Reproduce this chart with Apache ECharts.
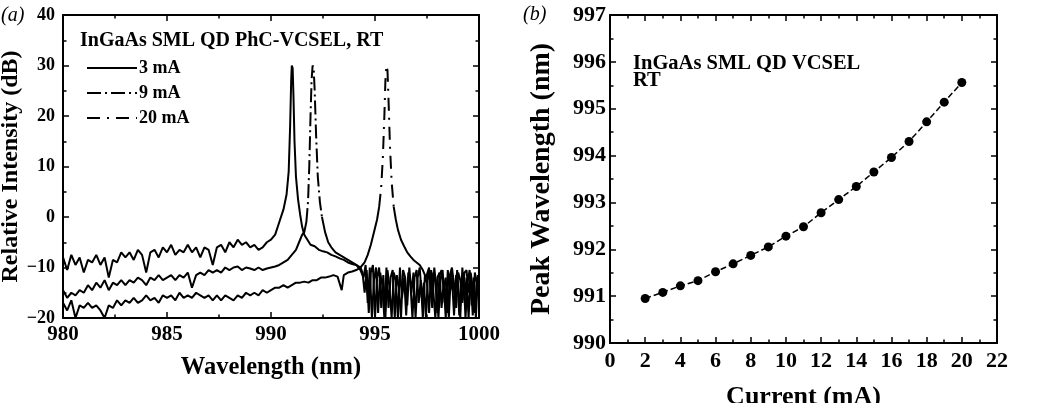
<!DOCTYPE html>
<html>
<head>
<meta charset="utf-8">
<script src="https://cdn.jsdelivr.net/npm/echarts@6/dist/echarts.min.js"></script>
<style>
  html, body { margin: 0; padding: 0; background: #fff; }
  #chart { width: 1048px; height: 403px; }
</style>
</head>
<body>
<div id="chart"></div>
<script>
// (a) spectra, [wavelength nm, relative intensity dB]
const spec3mA = [
  [980.0,-8.0],[980.2,-10.5],[980.4,-7.5],[980.6,-9.5],[980.8,-8.0],[981.0,-11.0],[981.2,-8.5],[981.4,-9.0],
  [981.6,-7.5],[981.8,-9.5],[982.0,-8.0],[982.2,-12.0],[982.4,-8.5],[982.6,-9.0],[982.8,-7.0],[983.0,-8.0],
  [983.2,-7.0],[983.4,-8.5],[983.6,-6.5],[983.8,-7.5],[984.0,-11.0],[984.2,-7.0],[984.4,-6.5],[984.6,-8.0],
  [984.8,-6.0],[985.0,-7.0],[985.2,-5.5],[985.4,-7.5],[985.6,-6.5],[985.8,-7.0],[986.0,-5.5],[986.2,-7.0],
  [986.4,-6.0],[986.6,-8.0],[986.8,-6.0],[987.0,-6.5],[987.2,-9.5],[987.4,-6.0],[987.6,-5.5],[987.8,-7.0],
  [988.0,-5.0],[988.2,-6.0],[988.4,-4.5],[988.6,-5.5],[988.8,-5.0],[989.0,-6.0],[989.2,-5.5],[989.4,-6.5],
  [989.6,-6.0],[989.8,-5.0],[990.0,-4.5],[990.2,-3.5],[990.4,-1.0],[990.6,1.5],[990.75,4.5],[990.85,9.0],
  [990.92,18.0],[990.97,27.0],[991.0,30.0],[991.04,29.5],[991.08,24.0],[991.13,15.0],[991.2,8.0],[991.3,3.5],
  [991.4,0.5],[991.5,-2.0],[991.6,-3.5],[991.75,-4.5],[991.9,-5.5],[992.1,-5.8],[992.3,-6.5],[992.5,-6.8],
  [992.7,-7.0],[992.9,-7.5],[993.1,-7.8],[993.3,-8.2],[993.5,-8.5],[993.7,-9.0],[993.9,-9.3],[994.1,-9.5],
  [994.3,-10.0],[994.4,-11.0],[994.5,-15.0],[994.6,-10.5],[994.7,-19.0],[994.8,-11.0],[994.9,-9.5],[995.0,-20.0],
  [995.1,-12.0],[995.2,-10.0],[995.3,-18.0],[995.4,-11.5],[995.5,-20.0],[995.6,-10.5],[995.7,-14.0],[995.8,-20.0],
  [995.9,-11.0],[996.0,-12.5],[996.1,-20.0],[996.2,-10.0],[996.3,-16.0],[996.4,-12.0],[996.5,-19.5],[996.6,-11.0],
  [996.7,-13.0],[996.8,-20.0],[996.9,-12.0],[997.0,-10.5],[997.1,-17.0],[997.2,-12.5],[997.3,-20.0],[997.4,-11.5],
  [997.5,-13.0],[997.6,-19.0],[997.7,-10.5],[997.8,-14.5],[997.9,-20.0],[998.0,-12.0],[998.1,-11.0],[998.2,-18.0],
  [998.3,-13.0],[998.4,-20.0],[998.5,-10.5],[998.6,-15.0],[998.7,-12.0],[998.8,-19.5],[998.9,-11.5],[999.0,-13.5],
  [999.1,-20.0],[999.2,-10.0],[999.3,-16.5],[999.4,-12.0],[999.5,-20.0],[999.6,-11.0],[999.7,-14.0],[999.8,-19.0],
  [999.9,-12.0],[1000.0,-15.0]
]

const spec9mA = [
  [980.0,-14.5],[980.2,-16.0],[980.4,-15.0],[980.6,-15.5],[980.8,-14.5],[981.0,-15.0],[981.2,-13.5],[981.4,-14.5],
  [981.6,-13.0],[981.8,-14.0],[982.0,-12.5],[982.2,-14.5],[982.4,-13.0],[982.6,-13.5],[982.8,-12.5],[983.0,-13.5],
  [983.2,-12.5],[983.4,-13.0],[983.6,-12.0],[983.8,-12.5],[984.0,-13.5],[984.2,-12.0],[984.4,-12.5],[984.6,-11.5],
  [984.8,-12.5],[985.0,-12.0],[985.2,-11.5],[985.4,-12.5],[985.6,-11.5],[985.8,-12.0],[986.0,-11.0],[986.2,-14.0],
  [986.4,-11.5],[986.6,-11.0],[986.8,-11.5],[987.0,-10.5],[987.2,-11.0],[987.4,-10.5],[987.6,-11.0],[987.8,-10.0],
  [988.0,-10.5],[988.2,-10.0],[988.4,-9.8],[988.6,-10.5],[988.8,-10.0],[989.0,-10.2],[989.2,-10.5],[989.4,-10.0],
  [989.6,-10.5],[989.8,-10.2],[990.0,-10.0],[990.2,-9.8],[990.4,-9.5],[990.6,-9.0],[990.8,-8.5],[991.0,-7.5],
  [991.2,-6.5],[991.35,-5.0],[991.5,-3.5],[991.6,-3.0],[991.7,-1.0],[991.78,3.0],[991.84,10.0],[991.9,20.0],
  [991.95,27.0],[992.0,30.0],[992.05,29.5],[992.1,25.0],[992.17,16.0],[992.25,8.0],[992.35,3.0],[992.45,0.0],
  [992.6,-3.0],[992.75,-5.0],[992.9,-6.0],[993.1,-7.0],[993.3,-7.5],[993.5,-8.0],[993.7,-8.5],[993.9,-9.0],
  [994.1,-9.5],[994.3,-10.5],[994.45,-12.0],[994.55,-9.5],[994.65,-17.0],[994.75,-10.0],[994.85,-20.0],[994.95,-12.5],
  [995.05,-10.0],[995.15,-19.0],[995.25,-11.0],[995.35,-13.5],[995.45,-20.0],[995.55,-10.0],[995.65,-18.0],[995.75,-12.0],
  [995.85,-10.5],[995.95,-20.0],[996.05,-11.5],[996.15,-14.0],[996.25,-20.0],[996.35,-10.5],[996.45,-12.0],[996.55,-17.5],
  [996.65,-10.0],[996.75,-15.0],[996.85,-11.0],[996.95,-20.0],[997.05,-12.0],[997.15,-10.0],[997.25,-16.0],[997.35,-13.0],
  [997.45,-20.0],[997.55,-11.0],[997.65,-12.5],[997.75,-18.0],[997.85,-10.0],[997.95,-14.0],[998.05,-20.0],[998.15,-12.5],
  [998.25,-10.5],[998.35,-17.0],[998.45,-13.0],[998.55,-20.0],[998.65,-11.0],[998.75,-12.0],[998.85,-16.0],[998.95,-10.5],
  [999.05,-19.5],[999.15,-12.5],[999.25,-11.0],[999.35,-20.0],[999.45,-13.0],[999.55,-10.5],[999.65,-17.5],[999.75,-12.0],
  [999.85,-20.0],[999.95,-11.5]
]

const spec20mA = [
  [980.0,-17.0],[980.2,-18.5],[980.4,-16.5],[980.6,-20.0],[980.8,-17.5],[981.0,-18.0],[981.2,-17.0],[981.4,-18.0],
  [981.6,-17.5],[981.8,-18.5],[982.0,-20.0],[982.2,-17.5],[982.4,-18.0],[982.6,-16.5],[982.8,-17.5],[983.0,-16.5],
  [983.2,-17.0],[983.4,-16.0],[983.6,-17.0],[983.8,-16.5],[984.0,-15.5],[984.2,-16.5],[984.4,-16.0],[984.6,-17.0],
  [984.8,-15.5],[985.0,-16.0],[985.2,-15.5],[985.4,-16.5],[985.6,-15.0],[985.8,-16.0],[986.0,-15.5],[986.2,-16.0],
  [986.4,-15.0],[986.6,-15.5],[986.8,-16.0],[987.0,-15.5],[987.2,-16.5],[987.4,-15.5],[987.6,-16.5],[987.8,-15.5],
  [988.0,-16.0],[988.2,-16.5],[988.4,-15.5],[988.6,-16.0],[988.8,-15.0],[989.0,-15.5],[989.2,-15.0],[989.4,-15.5],
  [989.6,-14.5],[989.8,-15.0],[990.0,-14.5],[990.2,-14.0],[990.4,-14.0],[990.6,-13.5],[990.8,-14.0],[991.0,-13.5],
  [991.2,-13.0],[991.4,-13.0],[991.6,-12.8],[991.8,-13.0],[992.0,-12.5],[992.2,-12.5],[992.4,-12.0],[992.6,-12.0],
  [992.8,-11.8],[993.0,-11.5],[993.2,-11.8],[993.4,-14.5],[993.5,-11.5],[993.7,-11.0],[993.9,-10.8],[994.1,-10.5],
  [994.3,-10.0],[994.5,-9.0],[994.65,-7.5],[994.8,-5.5],[994.95,-3.0],[995.1,-0.5],[995.2,2.0],[995.3,6.0],
  [995.38,12.0],[995.45,20.0],[995.5,27.0],[995.55,30.0],[995.6,29.0],[995.66,22.0],[995.72,14.0],[995.8,7.0],
  [995.9,2.0],[996.0,-0.5],[996.1,-2.5],[996.25,-4.5],[996.4,-5.8],[996.55,-7.0],[996.7,-7.8],[996.85,-8.5],
  [997.0,-9.0],[997.15,-9.5],[997.3,-10.5],[997.45,-12.0],[997.6,-10.0],[997.7,-16.0],[997.8,-11.0],[997.9,-12.5],
  [998.0,-19.0],[998.1,-11.5],[998.2,-10.5],[998.3,-14.0],[998.4,-12.0],[998.5,-19.0],[998.6,-11.5],[998.7,-10.0],
  [998.8,-13.5],[998.9,-18.0],[999.0,-11.0],[999.1,-12.5],[999.2,-17.0],[999.3,-11.0],[999.4,-10.5],[999.5,-15.0],
  [999.6,-12.0],[999.7,-19.5],[999.8,-11.0],[999.9,-13.0],[1000.0,-12.0]
]

// wavelength spans where the dashed pattern of the 9 mA / 20 mA lines shows (peaks)
const peakSpan9mA = [991.7, 992.45]
const peakSpan20mA = [995.2, 995.9]

// (b) peak wavelength vs current
const currents = [2, 3, 4, 5, 6, 7, 8, 9, 10, 11, 12, 13, 14, 15, 16, 17, 18, 19, 20]
const peakWavelength = [
  990.95, 991.08, 991.22, 991.33, 991.52, 991.69, 991.87, 992.05, 992.28, 992.48,
  992.78, 993.06, 993.34, 993.65, 993.96, 994.3, 994.72, 995.14, 995.56,
]

const serif = '"Liberation Serif", "Times New Roman", serif'

function basePart(data, span) {
  return data.map((p) => (p[0] > span[0] && p[0] < span[1] ? [p[0], '-'] : p))
}

function peakPart(data, span) {
  return data.filter((p) => p[0] >= span[0] && p[0] <= span[1])
}

function boxAxis(opts, showLabel, labelSize, labelMargin) {
  return Object.assign({
    type: 'value',
    axisLine: { show: true, onZero: false, lineStyle: { color: '#000', width: 2 } },
    axisTick: { show: true, inside: true, length: 6, lineStyle: { color: '#000', width: 1.5 } },
    minorTick: { show: true, splitNumber: 2, length: 3.5, lineStyle: { color: '#000', width: 1.5 } },
    splitLine: { show: false },
    axisLabel: {
      show: showLabel,
      color: '#000',
      fontFamily: serif,
      fontWeight: 'bold',
      fontSize: labelSize,
      margin: labelMargin,
      formatter: (v) => String(v).replace('-', '\u2212'),
    },
  }, opts)
}

function nameStyle(size) {
  return { color: '#000', fontFamily: serif, fontWeight: 'bold', fontSize: size }
}

const spectrumLine = (width, type) => ({ color: '#000', width: width, type: type })

const chart = echarts.init(document.getElementById('chart'))

chart.setOption({
  animation: false,
  backgroundColor: '#fff',
  grid: [
    { left: 63, top: 15, width: 416, height: 303, outerBoundsMode: 'none' },
    { left: 610, top: 15, width: 387, height: 328, outerBoundsMode: 'none' },
  ],
  xAxis: [
    boxAxis({ gridIndex: 0, position: 'bottom', min: 980, max: 1000, interval: 5,
      name: 'Wavelength (nm)', nameLocation: 'middle', nameGap: 37, nameTextStyle: nameStyle(24.5) }, true, 21, 6),
    boxAxis({ gridIndex: 0, position: 'top', min: 980, max: 1000, interval: 5 }, false, 21, 6),
    boxAxis({ gridIndex: 1, position: 'bottom', min: 0, max: 22, interval: 2,
      name: 'Current (mA)', nameLocation: 'middle', nameGap: 41, nameTextStyle: nameStyle(26) }, true, 22, 7),
    boxAxis({ gridIndex: 1, position: 'top', min: 0, max: 22, interval: 2 }, false, 22, 7),
  ],
  yAxis: [
    boxAxis({ gridIndex: 0, position: 'left', min: -20, max: 40, interval: 10,
      name: 'Relative Intensity (dB)', nameLocation: 'middle', nameGap: 37, nameTextStyle: nameStyle(24) }, true, 18, 8),
    boxAxis({ gridIndex: 0, position: 'right', min: -20, max: 40, interval: 10 }, false, 18, 8),
    boxAxis({ gridIndex: 1, position: 'left', min: 990, max: 997, interval: 1,
      name: 'Peak Wavelength (nm)', nameLocation: 'middle', nameGap: 54, nameTextStyle: nameStyle(28) }, true, 22, 4),
    boxAxis({ gridIndex: 1, position: 'right', min: 990, max: 997, interval: 1 }, false, 22, 4),
  ],
  legend: {
    orient: 'vertical',
    left: 86,
    top: 59,
    padding: 0,
    itemWidth: 50,
    itemHeight: 14,
    itemGap: 7,
    itemStyle: { opacity: 0 },
    data: ['3 mA', '9 mA', '20 mA'],
    textStyle: { color: '#000', fontFamily: serif, fontWeight: 'bold', fontSize: 18, padding: [0, 0, 0, -3] },
  },
  graphic: [
    { type: 'text', left: 1, top: 6, style: { text: '(a)', font: 'italic 20px ' + serif, fill: '#000' } },
    { type: 'text', left: 523, top: 5, style: { text: '(b)', font: 'italic 20px ' + serif, fill: '#000' } },
    { type: 'text', left: 80, top: 31, style: { text: 'InGaAs SML QD PhC-VCSEL, RT', font: 'bold 20px ' + serif, fill: '#000' } },
    { type: 'text', left: 633, top: 53, style: { text: 'InGaAs SML QD VCSEL\nRT', font: 'bold 20.5px ' + serif, lineHeight: 17, fill: '#000' } },
  ],
  series: [
    {
      name: '3 mA', type: 'line', xAxisIndex: 0, yAxisIndex: 0, data: spec3mA,
      symbol: 'none', lineStyle: spectrumLine(2, 'solid'), itemStyle: { color: '#000' },
    },
    {
      name: '9 mA base', type: 'line', xAxisIndex: 0, yAxisIndex: 0, data: basePart(spec9mA, peakSpan9mA),
      symbol: 'none', lineStyle: spectrumLine(2, 'solid'), itemStyle: { color: '#000' },
    },
    {
      name: '9 mA', type: 'line', xAxisIndex: 0, yAxisIndex: 0, data: peakPart(spec9mA, peakSpan9mA),
      symbol: 'none', lineStyle: spectrumLine(2, [14, 4, 2, 4]), itemStyle: { color: '#000' },
    },
    {
      name: '20 mA base', type: 'line', xAxisIndex: 0, yAxisIndex: 0, data: basePart(spec20mA, peakSpan20mA),
      symbol: 'none', lineStyle: spectrumLine(2, 'solid'), itemStyle: { color: '#000' },
    },
    {
      name: '20 mA', type: 'line', xAxisIndex: 0, yAxisIndex: 0, data: peakPart(spec20mA, peakSpan20mA),
      symbol: 'none', lineStyle: spectrumLine(2, [13, 7, 2, 7]), itemStyle: { color: '#000' },
    },
    {
      name: 'Peak', type: 'line', xAxisIndex: 2, yAxisIndex: 2,
      data: currents.map((c, i) => [c, peakWavelength[i]]),
      symbol: 'circle', symbolSize: 9,
      lineStyle: { color: '#000', width: 1.5, type: [6, 3] }, itemStyle: { color: '#000' },
    },
  ],
})
</script>
</body>
</html>
